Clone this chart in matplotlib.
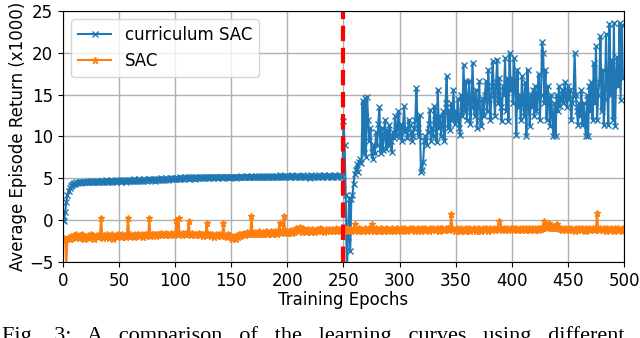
import numpy as np
import matplotlib
matplotlib.use("Agg")
import matplotlib.pyplot as plt

# curriculum SAC, epochs 0-249 (stage 1) and 250-499 (stage 2), x1000
cur_stage1 = [
    0.0, -0.1, 1.0, 2.2, 3.0, 3.5, 3.8, 4.1, 4.2, 4.3,
    4.4, 4.3, 4.5, 4.4, 4.5, 4.6, 4.4, 4.5, 4.6, 4.5,
    4.6, 4.5, 4.7, 4.6, 4.5, 4.7, 4.6, 4.6, 4.5, 4.7,
    4.6, 4.7, 4.6, 4.5, 4.7, 4.6, 4.7, 4.6, 4.8, 4.6,
    4.7, 4.6, 4.7, 4.8, 4.6, 4.7, 4.7, 4.6, 4.8, 4.7,
    4.7, 4.8, 4.6, 4.7, 4.8, 4.7, 4.6, 4.8, 4.7, 4.8,
    4.7, 4.8, 4.7, 4.9, 4.7, 4.8, 4.7, 4.8, 4.9, 4.7,
    4.8, 4.7, 4.9, 4.8, 4.8, 4.7, 4.9, 4.8, 4.9, 4.8,
    4.8, 4.9, 4.7, 4.9, 4.8, 4.9, 4.8, 5.0, 4.8, 4.9,
    4.9, 4.8, 5.0, 4.9, 4.8, 5.0, 4.9, 5.0, 4.9, 4.9,
    5.0, 4.9, 5.0, 4.9, 5.1, 4.9, 5.0, 5.0, 4.9, 5.1,
    5.0, 5.1, 4.9, 5.0, 5.1, 5.0, 5.0, 5.1, 4.9, 5.1,
    5.0, 5.1, 5.0, 5.2, 5.0, 5.1, 5.0, 5.1, 5.2, 5.0,
    5.1, 5.0, 5.2, 5.1, 5.0, 5.1, 5.2, 5.1, 5.0, 5.2,
    5.1, 5.2, 5.0, 5.1, 5.2, 5.1, 5.2, 5.1, 5.0, 5.2,
    5.1, 5.2, 5.1, 5.2, 5.0, 5.2, 5.1, 5.2, 5.1, 5.3,
    5.1, 5.2, 5.1, 5.2, 5.3, 5.1, 5.2, 5.1, 5.3, 5.2,
    5.2, 5.1, 5.3, 5.2, 5.2, 5.3, 5.1, 5.2, 5.3, 5.2,
    5.2, 5.3, 5.2, 5.1, 5.3, 5.2, 5.3, 5.2, 5.2, 5.3,
    5.2, 5.3, 5.2, 5.4, 5.2, 5.3, 5.2, 5.3, 5.2, 5.3,
    5.3, 5.2, 5.3, 5.2, 5.4, 5.3, 5.2, 5.3, 5.2, 5.3,
    5.2, 5.3, 5.2, 5.3, 5.4, 5.2, 5.3, 5.2, 5.3, 5.2,
    5.0, 5.4, 5.2, 5.3, 5.2, 5.3, 5.3, 5.2, 5.4, 5.3,
    5.2, 5.3, 5.2, 5.4, 5.3, 5.2, 5.3, 5.4, 5.3, 5.2,
    5.3, 5.2, 5.4, 5.3, 5.2, 5.3, 5.4, 5.3, 5.2, 5.3,
]
cur_stage2 = [
    11.8, 9.0, 3.0, -6.5, -2.0, 2.5, -3.7, 2.5, 3.0, 4.3,
    5.5, 6.0, 6.7, 5.8, 7.0, 7.3, 6.8, 14.2, 8.0, 14.6,
    7.6, 14.7, 12.0, 9.5, 11.0, 8.2, 7.3, 9.0, 8.0, 10.5,
    9.0, 11.5, 13.5, 8.0, 11.0, 8.4, 10.0, 12.0, 8.5, 10.8,
    9.0, 11.4, 9.5, 8.1, 10.5, 9.8, 12.4, 10.0, 11.0, 13.0,
    10.0, 11.5, 9.5, 10.8, 13.6, 10.5, 11.0, 9.8, 12.0, 11.4,
    10.5, 9.5, 10.0, 11.0, 12.0, 15.8, 11.0, 10.0, 12.6, 5.7,
    6.0, 6.9, 9.4, 10.0, 9.0, 10.5, 11.5, 13.2, 9.5, 11.0,
    10.0, 13.6, 12.0, 9.3, 15.6, 11.0, 12.5, 10.0, 11.5, 13.0,
    9.5, 14.0, 17.2, 11.0, 13.2, 10.8, 14.0, 12.0, 15.6, 11.5,
    13.0, 12.0, 14.5, 11.0, 10.2, 15.0, 12.5, 18.6, 13.0, 16.6,
    12.0, 14.5, 16.6, 11.5, 13.5, 18.8, 14.0, 12.5, 15.6, 11.0,
    14.0, 16.6, 12.0, 11.2, 14.5, 12.4, 15.0, 16.6, 13.0, 18.0,
    14.5, 12.0, 16.0, 19.0, 15.0, 12.4, 16.5, 19.2, 14.0, 17.0,
    13.5, 11.8, 16.0, 15.0, 19.4, 13.0, 17.0, 11.8, 20.0, 15.5,
    17.0, 14.0, 19.4, 16.0, 10.2, 18.0, 13.5, 15.0, 12.0, 17.2,
    14.0, 12.5, 16.5, 10.0, 18.0, 14.0, 11.2, 15.0, 13.5, 15.6,
    12.5, 16.0, 13.0, 15.0, 17.5, 12.0, 15.0, 21.3, 20.0, 14.0,
    18.0, 12.0, 16.0, 14.5, 11.2, 15.0, 12.5, 10.0, 14.0, 10.0,
    15.0, 13.0, 16.0, 13.6, 14.5, 15.5, 14.0, 16.5, 15.0, 13.5,
    16.0, 14.5, 15.5, 12.0, 14.0, 15.0, 20.0, 15.0, 13.0, 11.4,
    14.0, 12.5, 15.5, 11.4, 14.0, 12.0, 10.0, 15.0, 10.0, 16.0,
    13.0, 16.5, 12.0, 18.8, 14.0, 20.8, 12.0, 15.0, 16.5, 22.0,
    13.0, 18.0, 11.4, 14.5, 22.2, 16.0, 11.4, 23.4, 15.0, 19.2,
    12.0, 23.6, 11.2, 17.0, 19.5, 16.0, 23.6, 14.4, 23.3, 17.0,
]

# plain SAC, epochs 0-499, x1000
sac = [
    -2.4, -2.1, -2.3, -5.3, -2.2, -2.0, -2.3, -1.9, -2.1, -2.0,
    -1.8, -2.0, -1.7, -1.9, -2.1, -1.8, -2.0, -1.7, -1.9, -2.2,
    -1.9, -2.0, -1.8, -2.1, -1.9, -1.7, -2.0, -1.8, -2.2, -1.9,
    -1.8, -2.0, -1.9, -1.7, 0.3, -1.9, -2.1, -1.8, -2.0, -1.7,
    -1.9, -2.1, -1.8, -2.0, -1.7, -2.2, -1.9, -1.8, -2.0, -1.7,
    -1.9, -1.8, -2.0, -1.7, -1.9, -1.8, -2.0, -1.7, 0.3, -1.9,
    -1.7, -1.9, -1.8, -2.0, -1.7, -1.9, -1.8, -1.6, -1.9, -1.8,
    -1.7, -2.0, -1.8, -1.6, -1.9, -1.7, -1.8, 0.3, -1.9, -1.7,
    -1.6, -1.8, -1.7, -1.9, -1.6, -1.8, -1.7, -1.5, -1.8, -1.7,
    -1.6, -1.8, -1.5, -1.7, -1.6, -1.8, -1.5, -1.7, -1.6, -1.8,
    -1.6, 0.0, -1.5, 0.2, -1.7, -1.6, -1.8, -1.5, -1.7, -1.6,
    -1.5, -1.7, -0.1, -1.6, -1.8, -1.5, -1.7, -1.6, -1.8, -1.6,
    -1.7, -1.5, -1.8, -1.6, -1.7, -1.9, -1.6, -1.8, -0.3, -1.7,
    -1.8, -1.6, -1.9, -1.7, -1.8, -2.0, -1.7, -1.9, -1.8, -1.6,
    -1.8, -1.9, -1.7, -0.3, -1.9, -1.8, -2.0, -1.7, -1.9, -1.8,
    -2.0, -2.2, -1.9, -2.1, -2.3, -1.8, -2.0, -1.7, -1.9, -1.6,
    -1.7, -1.5, -1.8, -1.6, -1.4, -1.7, -1.5, -1.6, 0.5, -1.5,
    -1.6, -1.4, -1.7, -1.5, -1.6, -1.3, -1.5, -1.7, -1.4, -1.6,
    -1.5, -1.3, -1.6, -1.4, -1.5, -1.3, -1.6, -1.4, -1.5, -1.3,
    -1.4, -1.6, -1.3, -0.3, -1.5, -1.4, -1.2, 0.5, -1.4, -1.3,
    -1.5, -1.3, -1.4, -1.2, -1.5, -1.3, -1.4, -1.2, -0.9, -1.1,
    -1.3, -0.8, -1.2, -1.4, -1.0, -1.3, -1.2, -1.4, -1.1, -1.3,
    -1.2, -1.4, -1.1, -1.3, -1.2, -1.4, -1.1, -1.3, -1.2, -1.0,
    -1.3, -1.1, -1.2, -1.4, -1.1, -1.3, -1.2, -1.1, -1.3, -1.2,
    -1.1, -1.3, -1.2, -1.0, -1.3, -1.1, -1.2, -1.3, -1.1, -1.2,
    -1.3, -1.1, -1.2, -1.0, -1.3, -1.2, -1.1, -1.3, -1.2, -1.0,
    -0.5, -1.2, -1.1, -1.3, -1.0, -1.2, -1.1, -1.3, -1.2, -1.0,
    -1.1, -1.3, -1.2, -1.0, -1.2, -0.5, -1.1, -1.3, -1.2, -1.0,
    -1.2, -1.1, -1.3, -1.0, -1.2, -1.1, -1.3, -1.2, -1.0, -1.1,
    -1.3, -1.1, -1.2, -1.0, -1.2, -1.3, -1.1, -1.2, -1.0, -1.2,
    -1.1, -1.3, -1.0, -1.2, -1.1, -1.0, -1.2, -1.3, -1.1, -1.0,
    -1.2, -1.1, -1.0, -1.2, -1.3, -1.1, -1.0, -1.2, -1.1, -1.3,
    -1.0, -1.2, -1.1, -1.0, -1.2, -1.1, -1.3, -1.0, -1.1, -1.2,
    -1.0, -1.1, -1.2, -1.0, -1.1, -1.3, -1.0, -1.2, -0.9, -1.1,
    -1.2, -1.0, -1.1, -0.9, -1.2, -1.0, 0.7, -1.0, -1.1, -1.3,
    -1.1, -1.0, -1.2, -1.1, -1.3, -1.0, -1.2, -1.1, -1.3, -1.0,
    -1.2, -1.1, -1.0, -1.3, -1.1, -1.2, -1.0, -1.1, -1.3, -1.2,
    -1.0, -1.2, -1.1, -1.3, -1.0, -1.1, -1.2, -1.0, -1.1, -1.3,
    -1.1, -1.0, -1.2, -1.1, -1.0, -1.2, -1.1, -0.9, -1.1, -0.1,
    -1.0, -1.2, -1.1, -1.0, -1.2, -1.1, -1.0, -1.2, -1.1, -1.0,
    -1.1, -1.0, -1.2, -1.1, -1.0, -1.2, -1.1, -1.0, -1.1, -1.2,
    -1.0, -1.1, -1.2, -1.0, -1.1, -1.0, -1.2, -1.1, -1.0, -1.1,
    -1.2, -1.0, -1.1, -1.0, -1.2, -0.9, -1.1, -1.0, -0.8, -0.1,
    -0.8, -0.9, -0.6, -0.3, -0.8, -1.0, -0.7, -0.9, -1.0, -0.6,
    -0.5, -1.0, -0.9, -1.1, -1.0, -1.2, -1.1, -1.0, -1.2, -1.1,
    -1.0, -1.2, -1.1, -1.0, -1.2, -1.1, -1.3, -1.0, -1.1, -1.2,
    -1.0, -1.1, -1.2, -1.0, -1.1, -1.3, -1.0, -1.2, -1.1, -1.0,
    -1.2, -1.1, -1.0, -1.2, -1.1, -1.0, 0.9, -1.1, -1.2, -1.0,
    -1.1, -1.2, -1.0, -1.1, -1.3, -1.0, -1.2, -1.1, -1.0, -1.2,
    -1.1, -1.3, -1.0, -1.2, -1.1, -1.0, -1.2, -1.1, -1.3, -1.0,
]
switch_epoch = 250
caption_words = ['Fig.', '3:', 'A', 'comparison', 'of', 'the', 'learning',
                 'curves', 'using', 'different']

curriculum = np.array(cur_stage1 + cur_stage2)
epochs = np.arange(len(curriculum))

fig = plt.figure(figsize=(6.4, 3.38), dpi=100)
ax = fig.add_axes([0.0984, 0.225, 0.8766, 0.7425])

ax.plot(epochs, curriculum, color='tab:blue', marker='x', markersize=5,
        linewidth=1.5, label='curriculum SAC')
ax.plot(np.arange(len(sac)), sac, color='tab:orange', marker='*', markersize=5,
        linewidth=1.5, label='SAC')
ax.axvline(switch_epoch, color='red', linestyle='--', linewidth=3)

ax.set_xlim(0, 500)
ax.set_ylim(-5, 25)
ax.set_xticks(range(0, 501, 50))
ax.set_yticks(range(-5, 26, 5))
ax.tick_params(labelsize=12)
ax.grid(True, linewidth=1, color='#b0b0b0')
ax.set_xlabel('Training Epochs', fontsize=12, labelpad=1)
ax.set_ylabel('Average Episode Return (x1000)', fontsize=12, labelpad=1)
ax.legend(loc='upper left', fontsize=12)

# caption of the paper figure, cut off at the bottom like in the source
fig.text(0.003, 0.034, '   '.join(caption_words),
         fontsize=16, family='Liberation Serif', va='top', ha='left')

fig.savefig('out.png', dpi=100)
